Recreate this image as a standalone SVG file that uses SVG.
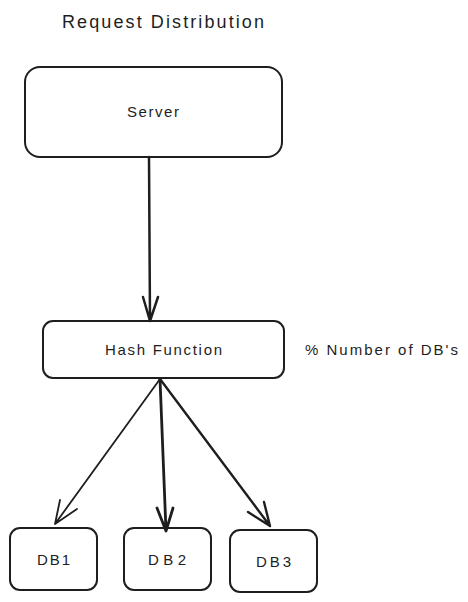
<svg xmlns="http://www.w3.org/2000/svg" width="468" height="602" viewBox="0 0 468 602">
<style>
.box{fill:#fff;stroke:#1e1e1e;stroke-width:2}
.t{font-family:"Liberation Sans","DejaVu Sans",sans-serif;fill:#1e1e1e;text-anchor:middle}
.c{fill:none;stroke:#1e1e1e;stroke-linecap:round;stroke-linejoin:round}
</style>
<rect width="468" height="602" fill="#fff"/>
<text class="t" x="163" y="28" font-size="18" textLength="202" lengthAdjust="spacing">Request Distribution</text>
<g id="server">
<rect class="box" x="25" y="67" width="257" height="90" rx="15"/>
<text class="t" x="153" y="117" font-size="15" textLength="52" lengthAdjust="spacing">Server</text>
</g>
<g id="hash">
<rect class="box" x="43" y="321" width="241" height="57" rx="10"/>
<text class="t" x="163.5" y="355" font-size="15" textLength="117" lengthAdjust="spacing">Hash Function</text>
</g>
<text class="t" x="381.5" y="355" font-size="15" textLength="153" lengthAdjust="spacing">% Number of DB's</text>
<g id="db1">
<rect class="box" x="10" y="528" width="87" height="62" rx="10"/>
<text class="t" x="53.5" y="565" font-size="15" textLength="33" lengthAdjust="spacing">DB1</text>
</g>
<g id="db2">
<rect class="box" x="124" y="528" width="87" height="62" rx="10"/>
<text class="t" x="167" y="565" font-size="15" textLength="38" lengthAdjust="spacing">DB2</text>
</g>
<g id="db3">
<rect class="box" x="230" y="530" width="87" height="62" rx="10"/>
<text class="t" x="273.5" y="567" font-size="15" textLength="35" lengthAdjust="spacing">DB3</text>
</g>
<g id="connectors">
<path class="c" stroke-width="2.5" d="M149 157 L150 321 M143 297 L150 321 L158 297"/>
<path class="c" stroke-width="1.8" d="M160 379 L55 524 M60 500 L55 524 L77 509"/>
<path class="c" stroke-width="2.8" d="M160 379 L166 531 M157 508 L166 531 L173 508"/>
<path class="c" stroke-width="2.4" d="M160 379 L270 526 M264 502 L270 526 L248 512"/>
</g>
</svg>
